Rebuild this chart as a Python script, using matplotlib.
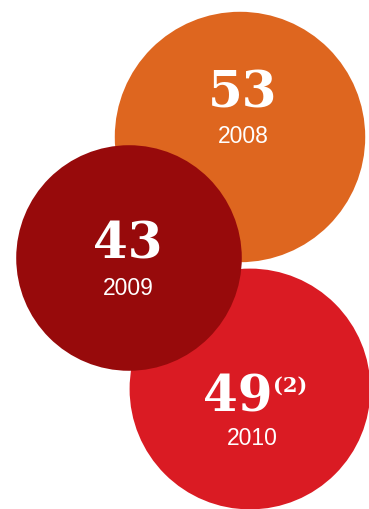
import numpy as np
import matplotlib
matplotlib.use("Agg")
import matplotlib.pyplot as plt
from matplotlib.patches import Circle

# data
years = ["2008", "2009", "2010"]
values = [53, 43, 49]
notes = ["", "", "(2)"]
colors = ["#DE661F", "#970A0B", "#DA1B23"]

# layout (pixel space), drawing order: 2008, 2010, 2009 on top
centers = {"2008": (240, 138), "2009": (129, 259), "2010": (250, 390)}
num_pos = {"2008": (243, 94), "2009": (128, 245), "2010": (238, 398)}
year_pos = {"2008": (243, 137), "2009": (128, 289), "2010": (252, 439)}
draw_order = ["2008", "2010", "2009"]
scale = 17.2  # px per sqrt(value) -> area proportional

fig = plt.figure(figsize=(3.69, 5.10), dpi=100)
ax = fig.add_axes([0, 0, 1, 1])
ax.set_xlim(0, 369)
ax.set_ylim(510, 0)
ax.set_aspect("equal")
ax.axis("off")

for z, yr in enumerate(draw_order):
    i = years.index(yr)
    cx, cy = centers[yr]
    r = scale * np.sqrt(values[i])
    ax.add_patch(Circle((cx, cy), r, color=colors[i], zorder=z + 1, lw=0))
    nx, ny = num_pos[yr]
    ax.text(nx, ny, str(values[i]), ha="center", va="center", color="white",
            fontsize=36, fontweight="bold", family="DejaVu Serif", zorder=10)
    yx, yy = year_pos[yr]
    ax.text(yx, yy, yr, ha="center", va="center", color="white",
            fontsize=16.5, family=["Liberation Sans Narrow", "Liberation Sans"], zorder=10)
    if notes[i]:
        ax.text(290, 386, notes[i], ha="center", va="center", color="white",
                fontsize=15, fontweight="bold", family="DejaVu Serif", zorder=10)

fig.savefig("out.png", dpi=100, facecolor="white")
